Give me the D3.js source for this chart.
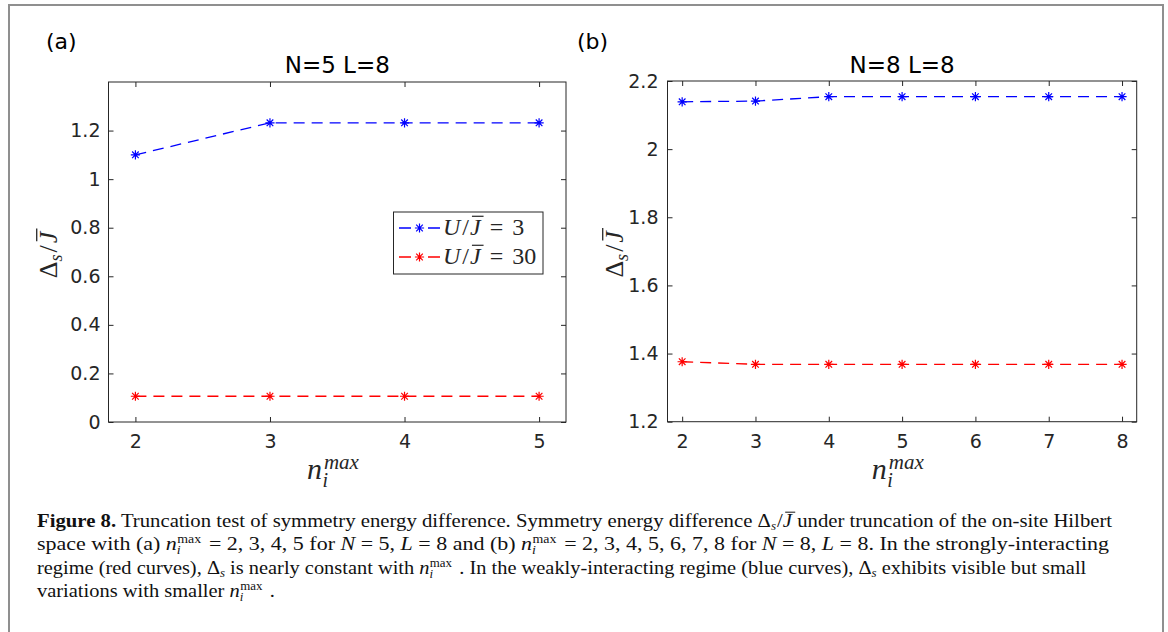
<!DOCTYPE html>
<html>
<head>
<meta charset="utf-8">
<script src="https://cdn.jsdelivr.net/npm/d3@7/dist/d3.min.js"></script>
<style>
  body { margin: 0; background: #fff; }
  svg { display: block; }
</style>
</head>
<body>
<svg id="fig" width="1168" height="632"></svg>
<script>
// ---- data -------------------------------------------------------------
// panel (a): N=5, L=8
const nmaxA   = [2, 3, 4, 5];
const weakA   = [1.100, 1.232, 1.232, 1.232];   // U/J = 3
const strongA = [0.106, 0.106, 0.106, 0.106];   // U/J = 30
const yTicksA = [0, 0.2, 0.4, 0.6, 0.8, 1, 1.2];

// panel (b): N=8, L=8
const nmaxB   = [2, 3, 4, 5, 6, 7, 8];
const weakB   = [2.139, 2.141, 2.154, 2.154, 2.154, 2.154, 2.154];
const strongB = [1.376, 1.3685, 1.3685, 1.3685, 1.3685, 1.3685, 1.3685];
const yTicksB = [1.2, 1.4, 1.6, 1.8, 2, 2.2];

const interaction = ["3", "30"];             // U/J values of the two curves
const titles = ["N=5 L=8", "N=8 L=8"];
const tags = ["(a)", "(b)"];

// ---- styles -----------------------------------------------------------
const AX = "#262626";
const BLUE = "#0000ff", RED = "#ff0000";
const SANS = "DejaVu Sans, Liberation Sans, sans-serif";
const SERIF = "Liberation Serif, Times New Roman, serif";

const svg = d3.select("#fig");

// outer frame
svg.append("rect")
  .attr("x", 9).attr("y", 5).attr("width", 1154).attr("height", 700)
  .attr("fill", "none").attr("stroke", "#8f8f8f").attr("stroke-width", 2);

// rich text: runs of {t, italic, bold, size, shift (down +), dx, bar, family}
function rich(parent, runs, opts) {
  const text = parent.append("text")
    .attr("x", opts.x || 0).attr("y", opts.y || 0)
    .attr("font-family", opts.family || SERIF)
    .attr("font-size", opts.size || 16)
    .attr("fill", opts.fill || AX)
    .attr("text-anchor", opts.anchor || "start")
    .style("white-space", "pre");
  let cur = 0;
  const tsp = [];
  runs.forEach(r => {
    const s = r.shift || 0;
    const t = text.append("tspan").text(r.t);
    if (s !== cur) t.attr("dy", s - cur);
    cur = s;
    if (r.dx) t.attr("dx", r.dx);
    if (r.italic) t.attr("font-style", "italic");
    if (r.bold) t.attr("font-weight", "bold");
    if (r.size) t.attr("font-size", r.size);
    if (r.family) t.attr("font-family", r.family);
    tsp.push({node: t.node(), run: r});
  });
  // overbars (e.g. J-bar)
  tsp.forEach(({node, run}) => {
    if (!run.bar) return;
    const n = run.t.length;
    const p0 = node.getStartPositionOfChar(0);
    const p1 = node.getEndPositionOfChar(n - 1);
    const fs = run.size || opts.size || 16;
    const yb = p0.y - fs * 0.78;
    parent.append("line")
      .attr("x1", p0.x + fs * 0.08).attr("x2", p1.x + fs * 0.12)
      .attr("y1", yb).attr("y2", yb)
      .attr("stroke", opts.fill || AX).attr("stroke-width", Math.max(1, fs * 0.05));
  });
  return text;
}

// asterisk marker (plus + cross)
function asterisk(r) {
  const d = r * 0.72;
  return `M${-r},0L${r},0M0,${-r}L0,${r}M${-d},${-d}L${d},${d}M${-d},${d}L${d},${-d}`;
}

const panels = [
  { left: 108.5, right: 566, top: 82, bottom: 422, xDom: [1.8, 5.2], yDom: [0, 1.4],
    xs: nmaxA, weak: weakA, strong: strongA, yTicks: yTicksA,
    title: titles[0], tag: tags[0], tagX: 46, ylabX: 57, legend: true, ypad: 8 },
  { left: 667.5, right: 1136.7, top: 81, bottom: 421.7, xDom: [1.8, 8.2], yDom: [1.2, 2.2],
    xs: nmaxB, weak: weakB, strong: strongB, yTicks: yTicksB,
    title: titles[1], tag: tags[1], tagX: 577, ylabX: 623, legend: false, ypad: 9 }
];

const fmt = d => String(+d.toFixed(1));

panels.forEach(p => {
  const x = d3.scaleLinear().domain(p.xDom).range([p.left, p.right]);
  const y = d3.scaleLinear().domain(p.yDom).range([p.bottom, p.top]);
  const g = svg.append("g");

  // axes with inward ticks, mirrored on top/right
  const axes = [
    [d3.axisBottom(x).tickValues(p.xs).tickFormat(d3.format("d")).tickPadding(13), `translate(0,${p.bottom})`],
    [d3.axisTop(x).tickValues(p.xs).tickFormat(""), `translate(0,${p.top})`],
    [d3.axisLeft(y).tickValues(p.yTicks).tickFormat(fmt).tickPadding(p.ypad), `translate(${p.left},0)`],
    [d3.axisRight(y).tickValues(p.yTicks).tickFormat(""), `translate(${p.right},0)`]
  ];
  axes.forEach(([ax, tr]) => {
    const a = g.append("g").attr("transform", tr)
      .call(ax.tickSize(-5).tickSizeOuter(0));
    a.select(".domain").remove();
    a.selectAll("line").attr("stroke", AX);
    a.selectAll("text").attr("fill", AX).attr("font-family", SANS).attr("font-size", 19);
  });

  // box
  g.append("rect")
    .attr("x", p.left).attr("y", p.top)
    .attr("width", p.right - p.left).attr("height", p.bottom - p.top)
    .attr("fill", "none").attr("stroke", AX).attr("stroke-width", 1);

  // curves
  const line = d3.line().x((d, i) => x(p.xs[i])).y(d => y(d));
  [[p.weak, BLUE], [p.strong, RED]].forEach(([vals, col]) => {
    g.append("path").datum(vals)
      .attr("d", line).attr("fill", "none")
      .attr("stroke", col).attr("stroke-width", 1.3)
      .attr("stroke-dasharray", "11,7");
    g.selectAll(null).data(vals).enter().append("path")
      .attr("transform", (d, i) => `translate(${x(p.xs[i])},${y(d)})`)
      .attr("d", asterisk(4.6)).attr("fill", "none")
      .attr("stroke", col).attr("stroke-width", 1.2);
  });

  // title and panel tag
  g.append("text").attr("x", (p.left + p.right) / 2).attr("y", 72.5)
    .attr("text-anchor", "middle").attr("font-family", SANS).attr("font-size", 23)
    .attr("fill", "#000").text(p.title);
  g.append("text").attr("x", p.tagX).attr("y", 49)
    .attr("font-family", SANS).attr("font-size", 22).attr("fill", "#000").text(p.tag);

  // x label  n_i^max
  const cx = (p.left + p.right) / 2;
  const xl = g.append("g");
  const nText = xl.append("text").attr("x", 0).attr("y", 479)
    .attr("font-family", SERIF).attr("font-style", "italic").attr("font-size", 30)
    .attr("fill", AX).text("n");
  const nW = nText.node().getComputedTextLength();
  xl.append("text").attr("x", nW + 0.5).attr("y", 487)
    .attr("font-family", SERIF).attr("font-style", "italic").attr("font-size", 20)
    .attr("fill", AX).text("i");
  xl.append("text").attr("x", nW + 2).attr("y", 469)
    .attr("font-family", SERIF).attr("font-style", "italic").attr("font-size", 21)
    .attr("fill", AX).text("max");
  const bb = xl.node().getBBox();
  xl.attr("transform", `translate(${cx - 4 - bb.width / 2},0)`);

  // y label  Δs / J-bar
  const yl = g.append("g")
    .attr("transform", `translate(${p.ylabX},${(p.top + p.bottom) / 2 + 3}) rotate(-90)`);
  rich(yl, [
    { t: "Δ" },
    { t: "s", italic: true, size: 18, shift: 5 },
    { t: "/", dx: 2 },
    { t: "J", italic: true, dx: 2, bar: true }
  ], { size: 26, anchor: "middle" });

  // legend
  if (p.legend) {
    const lg = svg.append("g");
    lg.append("rect").attr("x", 393.5).attr("y", 212).attr("width", 149.5).attr("height", 62)
      .attr("fill", "#fff").attr("stroke", AX).attr("stroke-width", 1);
    [[BLUE, 228], [RED, 257]].forEach(([col, ly], k) => {
      lg.append("line").attr("x1", 399).attr("x2", 440).attr("y1", ly).attr("y2", ly)
        .attr("stroke", col).attr("stroke-width", 1.3).attr("stroke-dasharray", "12,17");
      lg.append("path").attr("transform", `translate(419.5,${ly})`)
        .attr("d", asterisk(4.6)).attr("fill", "none").attr("stroke", col).attr("stroke-width", 1.2);
      rich(lg, [
        { t: "U", italic: true },
        { t: "/", dx: 2 },
        { t: "J", italic: true, dx: 1, bar: true },
        { t: "=", dx: 9 },
        { t: interaction[k], dx: 9 }
      ], { x: 443, y: ly + 7, size: 24 });
    });
  }
});

// ---- caption ----------------------------------------------------------
const cap = svg.append("g");
const NMAX = [
  { t: "n", italic: true },
  { t: "i", italic: true, size: 12, shift: 4 },
  { t: "max", size: 12, shift: -7, dx: -3 }
];
const DS = [{ t: "Δ" }, { t: "s", italic: true, size: 12, shift: 3 }];
const captionLines = [
  { y: 527, w: 1075, runs: [
    { t: "Figure 8.", bold: true },
    { t: " Truncation test of symmetry energy difference. Symmetry energy difference " },
    ...DS, { t: "/", dx: 1 }, { t: "J", italic: true, bar: true },
    { t: " under truncation of the on-site Hilbert" }
  ]},
  { y: 550, w: 1075, runs: [
    { t: "space with (a) " }, ...NMAX, { t: " = 2, 3, 4, 5 for ", dx: 2 },
    { t: "N", italic: true }, { t: " = 5, " }, { t: "L", italic: true }, { t: " = 8 and (b) " },
    ...NMAX, { t: " = 2, 3, 4, 5, 6, 7, 8 for ", dx: 2 },
    { t: "N", italic: true }, { t: " = 8, " }, { t: "L", italic: true },
    { t: " = 8. In the strongly-interacting" }
  ]},
  { y: 573.5, w: 1051, runs: [
    { t: "regime (red curves), " }, ...DS, { t: " is nearly constant with " }, ...NMAX,
    { t: " . In the weakly-interacting regime (blue curves), ", dx: 2 }, ...DS,
    { t: " exhibits visible but small" }
  ]},
  { y: 597, w: 239, runs: [
    { t: "variations with smaller " }, ...NMAX, { t: " .", dx: 2 }
  ]}
];
captionLines.forEach(L => {
  const lg = cap.append("g");
  const t = rich(lg, L.runs, { x: 0, y: 0, size: 19, fill: "#111" });
  const w = t.node().getComputedTextLength();
  lg.attr("transform", `translate(37,${L.y}) scale(${L.w / w},1)`);
});
</script>
</body>
</html>
